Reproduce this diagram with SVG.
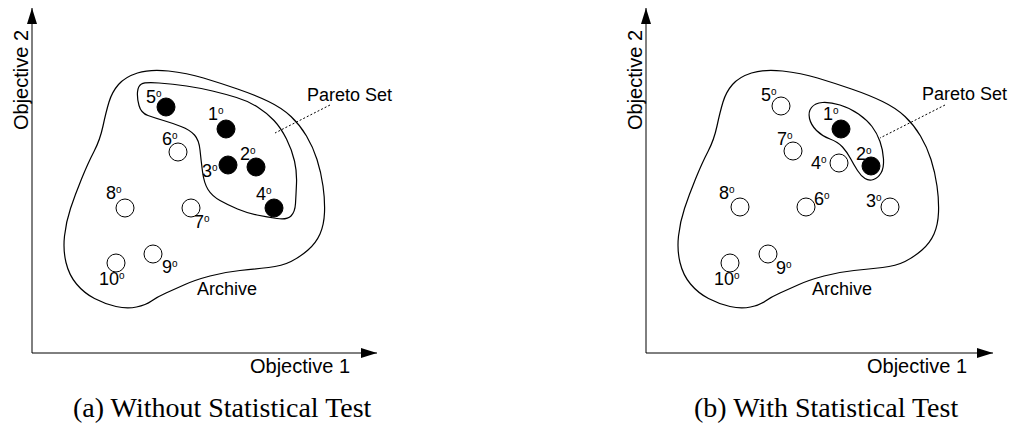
<svg xmlns="http://www.w3.org/2000/svg" width="1013" height="429" viewBox="0 0 1013 429">
<defs>
<marker id="ah" viewBox="0 0 16 10" refX="16" refY="5" markerWidth="16" markerHeight="10" markerUnits="userSpaceOnUse" orient="auto">
<path d="M0,0 L16,5 L0,10 Z" fill="#000"/>
</marker>
<path id="archive" d="M168.5,71 Q187,73 203.5,78 Q220,83 237.5,89 Q255,95 268.5,101.5 Q282,108 291,116.5 Q300,125 306.5,136 Q313,147 317,159.5 Q321,172 323,186 Q325,200 324.5,212.5 Q324,225 320,234 Q316,243 308,250 Q300,257 291,261.5 Q282,266 268.5,267.5 Q255,269 240,270.5 Q225,272 210,276 Q195,280 185,284.5 Q175,289 166,293 Q157,297 151.5,301 Q146,305 136.5,307 Q127,309 116,306.5 Q105,304 94.5,298.5 Q84,293 76.5,284 Q69,275 66,262.5 Q63,250 64.5,236 Q66,222 70.5,208.5 Q75,195 81.5,179 Q88,163 94,151.5 Q100,140 103,126 Q106,112 109,102 Q112,92 118.5,84.5 Q125,77 137.5,73 Q150,69 168.5,71 Z"/>
</defs>
<style>
.ax{stroke:#000;stroke-width:1;fill:none}
.blob{stroke:#000;stroke-width:1.2;fill:none}
.lead{stroke:#000;stroke-width:1;stroke-dasharray:2,2;fill:none}
.on{fill:#000;stroke:#000;stroke-width:1}
.off{fill:#fff;stroke:#000;stroke-width:1}
.lbl{font-family:"Liberation Sans",Arial,sans-serif;font-size:18px;fill:#000}
.axl{font-family:"Liberation Sans",Arial,sans-serif;font-size:20px;fill:#000}
.s{font-size:10px}
.cap{font-family:"Liberation Serif","Times New Roman",serif;font-size:28px;fill:#000}
</style>
<rect width="1013" height="429" fill="#fff"/>

<g id="connectors">
<line class="ax" x1="32" y1="353" x2="32" y2="8" marker-end="url(#ah)"/>
<line class="ax" x1="32" y1="353" x2="377" y2="353" marker-end="url(#ah)"/>
<line class="ax" x1="646" y1="353" x2="646" y2="8" marker-end="url(#ah)"/>
<line class="ax" x1="646" y1="353" x2="993" y2="353" marker-end="url(#ah)"/>
<line class="lead" x1="330" y1="105" x2="275" y2="133"/>
<line class="lead" x1="945" y1="105" x2="880" y2="138"/>
</g>

<g id="panel-a">
<g id="a-axis-labels">
<text class="axl" transform="translate(28,80) rotate(-90)" text-anchor="middle">Objective 2</text>
<text class="axl" x="250" y="373">Objective 1</text>
</g>
<g id="a-archive">
<use href="#archive" class="blob"/>
<text class="lbl" x="197" y="295">Archive</text>
</g>
<g id="a-pareto">
<path class="blob" d="M159,83 Q173,84 186.5,86 Q200,88 212.5,91 Q225,94 236.5,97.5 Q248,101 257.5,107 Q267,113 274,120.5 Q281,128 286.5,139 Q292,150 294.5,161 Q297,172 296.5,183.5 Q296,195 295.5,203.5 Q295,212 291,216 Q287,220 277,218.5 Q267,217 257,215 Q247,213 237.5,209 Q228,205 220,200.5 Q212,196 208,189.5 Q204,183 202.5,171.5 Q201,160 200,150 Q199,140 194.5,135 Q190,130 181,126.5 Q172,123 163.5,120.5 Q155,118 148,115.5 Q141,113 139,105.5 Q137,98 137.5,92 Q138,86 141.5,84 Q145,82 159,83 Z"/>
<text class="lbl" x="307" y="101">Pareto Set</text>
</g>
<g id="a-p1"><circle class="on" cx="226" cy="129" r="9"/><text class="lbl" x="208" y="120">1<tspan class="s" dy="-6">o</tspan></text></g>
<g id="a-p2"><circle class="on" cx="256" cy="167" r="9"/><text class="lbl" x="240" y="160">2<tspan class="s" dy="-6">o</tspan></text></g>
<g id="a-p3"><circle class="on" cx="228" cy="165" r="9"/><text class="lbl" x="202" y="177">3<tspan class="s" dy="-6">o</tspan></text></g>
<g id="a-p4"><circle class="on" cx="274" cy="208" r="9"/><text class="lbl" x="256" y="200">4<tspan class="s" dy="-6">o</tspan></text></g>
<g id="a-p5"><circle class="on" cx="166" cy="107" r="9"/><text class="lbl" x="146" y="103">5<tspan class="s" dy="-6">o</tspan></text></g>
<g id="a-p6"><circle class="off" cx="178" cy="152" r="9"/><text class="lbl" x="162" y="145">6<tspan class="s" dy="-6">o</tspan></text></g>
<g id="a-p7"><circle class="off" cx="191" cy="208" r="9"/><text class="lbl" x="194" y="228">7<tspan class="s" dy="-6">o</tspan></text></g>
<g id="a-p8"><circle class="off" cx="125" cy="208" r="9"/><text class="lbl" x="106" y="199">8<tspan class="s" dy="-6">o</tspan></text></g>
<g id="a-p9"><circle class="off" cx="153" cy="254" r="9"/><text class="lbl" x="162" y="273">9<tspan class="s" dy="-6">o</tspan></text></g>
<g id="a-p10"><circle class="off" cx="116" cy="263" r="9"/><text class="lbl" x="99" y="285">10<tspan class="s" dy="-6">o</tspan></text></g>
<text class="cap" x="73" y="417">(a) Without Statistical Test</text>
</g>

<g id="panel-b">
<g id="b-axis-labels">
<text class="axl" transform="translate(642,80) rotate(-90)" text-anchor="middle">Objective 2</text>
<text class="axl" x="867" y="373">Objective 1</text>
</g>
<g id="b-archive">
<use href="#archive" class="blob" transform="translate(614,0)"/>
<text class="lbl" x="812" y="295">Archive</text>
</g>
<g id="b-pareto">
<path class="blob" d="M822.5,102.5 Q830,102 840,105 Q850,108 858.5,114 Q867,120 872,126.5 Q877,133 880,141.5 Q883,150 883.5,159 Q884,168 881,173 Q878,178 873.5,179.5 Q869,181 865,178.5 Q861,176 857.5,170.5 Q854,165 850.5,158.5 Q847,152 842.5,147 Q838,142 830,139 Q822,136 816.5,130.5 Q811,125 809.5,118.5 Q808,112 811.5,107.5 Q815,103 822.5,102.5 Z"/>
<text class="lbl" x="922" y="100">Pareto Set</text>
</g>
<g id="b-p1"><circle class="on" cx="841" cy="129" r="9"/><text class="lbl" x="823" y="120">1<tspan class="s" dy="-6">o</tspan></text></g>
<g id="b-p2"><circle class="on" cx="871" cy="166" r="9"/><text class="lbl" x="856" y="160">2<tspan class="s" dy="-6">o</tspan></text></g>
<g id="b-p3"><circle class="off" cx="890" cy="207" r="9"/><text class="lbl" x="866" y="207">3<tspan class="s" dy="-6">o</tspan></text></g>
<g id="b-p4"><circle class="off" cx="839" cy="163" r="9"/><text class="lbl" x="811" y="169">4<tspan class="s" dy="-6">o</tspan></text></g>
<g id="b-p5"><circle class="off" cx="781" cy="106" r="9"/><text class="lbl" x="761" y="101">5<tspan class="s" dy="-6">o</tspan></text></g>
<g id="b-p6"><circle class="off" cx="806" cy="207" r="9"/><text class="lbl" x="814" y="205">6<tspan class="s" dy="-6">o</tspan></text></g>
<g id="b-p7"><circle class="off" cx="793" cy="151" r="9"/><text class="lbl" x="777" y="145">7<tspan class="s" dy="-6">o</tspan></text></g>
<g id="b-p8"><circle class="off" cx="740" cy="207" r="9"/><text class="lbl" x="719" y="199">8<tspan class="s" dy="-6">o</tspan></text></g>
<g id="b-p9"><circle class="off" cx="768" cy="254" r="9"/><text class="lbl" x="776" y="274">9<tspan class="s" dy="-6">o</tspan></text></g>
<g id="b-p10"><circle class="off" cx="730" cy="263" r="9"/><text class="lbl" x="714" y="285">10<tspan class="s" dy="-6">o</tspan></text></g>
<text class="cap" x="694" y="417">(b) With Statistical Test</text>
</g>
</svg>
